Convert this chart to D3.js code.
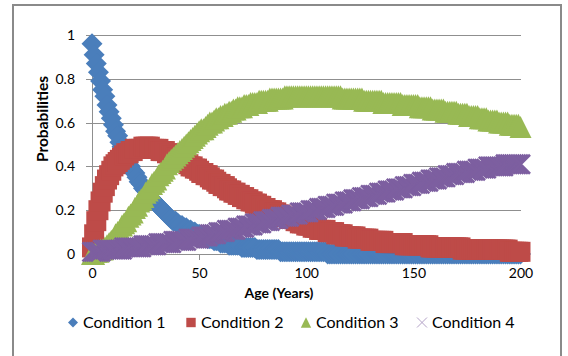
<!DOCTYPE html>
<html>
<head>
<meta charset="utf-8">
<script src="https://cdn.jsdelivr.net/npm/d3@7"></script>
<style>
  html, body { margin: 0; padding: 0; background: #fff; }
  svg { display: block; }
  text { font-family: Lato, "Open Sans", sans-serif; fill: #000; }
</style>
</head>
<body>
<svg id="chart" width="568" height="356"></svg>
<script>
// Age axis: one reading per year
const ageStart = 0, ageEnd = 200;
const ages = d3.range(ageStart, ageEnd + 1);

const condition1 = [
  0.96,0.91,0.87,0.83,0.79,0.75,0.72,0.68,0.65,0.62,
  0.59,0.56,0.54,0.51,0.49,0.47,0.44,0.42,0.40,0.38,
  0.37,0.35,0.33,0.32,0.30,0.29,0.27,0.26,0.25,0.24,
  0.23,0.22,0.21,0.20,0.19,0.18,0.17,0.16,0.15,0.15,
  0.14,0.13,0.13,0.12,0.12,0.11,0.11,0.10,0.10,0.09,
  0.09,0.08,0.08,0.08,0.07,0.07,0.07,0.06,0.06,0.06,
  0.05,0.05,0.05,0.05,0.04,0.04,0.04,0.04,0.04,0.04,
  0.03,0.03,0.03,0.03,0.03,0.03,0.03,0.02,0.02,0.02,
  0.02,0.02,0.02,0.02,0.02,0.02,0.02,0.02,0.01,0.01,
  0.01,0.01,0.01,0.01,0.01,0.01,0.01,0.01,0.01,0.01,
  0.01,0.01,0.01,0.01,0.01,0.01,0.01,0.01,0.01,0.01,
  0,0,0,0,0,0,0,0,0,0,
  0,0,0,0,0,0,0,0,0,0,
  0,0,0,0,0,0,0,0,0,0,
  0,0,0,0,0,0,0,0,0,0,
  0,0,0,0,0,0,0,0,0,0,
  0,0,0,0,0,0,0,0,0,0,
  0,0,0,0,0,0,0,0,0,0,
  0,0,0,0,0,0,0,0,0,0,
  0,0,0,0,0,0,0,0,0,0,
  0
];

const condition2 = [
  0.03,0.09,0.15,0.20,0.24,0.28,0.31,0.34,0.36,0.38,
  0.40,0.41,0.42,0.43,0.44,0.45,0.46,0.46,0.47,0.47,
  0.48,0.48,0.48,0.48,0.49,0.49,0.49,0.49,0.48,0.48,
  0.48,0.48,0.47,0.47,0.47,0.46,0.46,0.45,0.45,0.44,
  0.44,0.43,0.43,0.42,0.42,0.41,0.40,0.40,0.39,0.39,
  0.38,0.37,0.37,0.36,0.36,0.35,0.34,0.34,0.33,0.32,
  0.32,0.31,0.31,0.30,0.29,0.29,0.28,0.28,0.27,0.27,
  0.26,0.26,0.25,0.25,0.24,0.24,0.23,0.23,0.22,0.22,
  0.21,0.21,0.20,0.20,0.20,0.19,0.19,0.18,0.18,0.17,
  0.17,0.17,0.16,0.16,0.16,0.15,0.15,0.14,0.14,0.14,
  0.13,0.13,0.13,0.12,0.12,0.12,0.11,0.11,0.11,0.11,
  0.10,0.10,0.10,0.10,0.09,0.09,0.09,0.09,0.08,0.08,
  0.08,0.08,0.08,0.08,0.07,0.07,0.07,0.07,0.07,0.07,
  0.06,0.06,0.06,0.06,0.06,0.06,0.06,0.05,0.05,0.05,
  0.05,0.05,0.05,0.05,0.05,0.05,0.04,0.04,0.04,0.04,
  0.04,0.04,0.04,0.04,0.04,0.04,0.04,0.04,0.03,0.03,
  0.03,0.03,0.03,0.03,0.03,0.03,0.03,0.03,0.03,0.03,
  0.03,0.03,0.03,0.02,0.02,0.02,0.02,0.02,0.02,0.02,
  0.02,0.02,0.02,0.02,0.02,0.02,0.02,0.02,0.02,0.02,
  0.02,0.02,0.02,0.02,0.02,0.01,0.01,0.01,0.01,0.01,
  0.01
];

const condition3 = [
  0.00,0.00,0.01,0.01,0.02,0.02,0.03,0.04,0.05,0.06,
  0.07,0.09,0.10,0.11,0.13,0.14,0.15,0.17,0.18,0.19,
  0.21,0.22,0.24,0.25,0.26,0.28,0.29,0.30,0.32,0.33,
  0.34,0.36,0.37,0.38,0.39,0.41,0.42,0.43,0.44,0.45,
  0.46,0.47,0.48,0.49,0.50,0.51,0.52,0.53,0.54,0.55,
  0.56,0.57,0.57,0.58,0.59,0.60,0.60,0.61,0.62,0.62,
  0.63,0.63,0.64,0.64,0.65,0.65,0.66,0.66,0.67,0.67,
  0.67,0.68,0.68,0.68,0.69,0.69,0.69,0.69,0.70,0.70,
  0.70,0.70,0.70,0.71,0.71,0.71,0.71,0.71,0.71,0.71,
  0.72,0.72,0.72,0.72,0.72,0.72,0.72,0.72,0.72,0.72,
  0.72,0.72,0.72,0.72,0.72,0.72,0.72,0.72,0.72,0.72,
  0.72,0.72,0.72,0.72,0.72,0.72,0.72,0.71,0.71,0.71,
  0.71,0.71,0.71,0.71,0.71,0.71,0.71,0.70,0.70,0.70,
  0.70,0.70,0.70,0.70,0.70,0.70,0.69,0.69,0.69,0.69,
  0.69,0.69,0.69,0.69,0.69,0.68,0.68,0.68,0.68,0.68,
  0.68,0.68,0.68,0.67,0.67,0.67,0.67,0.67,0.67,0.66,
  0.66,0.66,0.66,0.66,0.66,0.65,0.65,0.65,0.65,0.65,
  0.65,0.64,0.64,0.64,0.64,0.64,0.63,0.63,0.63,0.63,
  0.63,0.62,0.62,0.62,0.62,0.61,0.61,0.61,0.61,0.61,
  0.60,0.60,0.60,0.60,0.60,0.59,0.59,0.59,0.59,0.59,
  0.58
];

const condition4 = [
  0.01,0.01,0.01,0.01,0.01,0.02,0.02,0.02,0.02,0.02,
  0.02,0.02,0.02,0.02,0.02,0.03,0.03,0.03,0.03,0.03,
  0.03,0.03,0.03,0.03,0.04,0.04,0.04,0.04,0.04,0.04,
  0.04,0.05,0.05,0.05,0.05,0.05,0.05,0.05,0.06,0.06,
  0.06,0.06,0.06,0.06,0.06,0.07,0.07,0.07,0.07,0.07,
  0.07,0.08,0.08,0.08,0.08,0.09,0.09,0.09,0.09,0.10,
  0.10,0.10,0.10,0.11,0.11,0.11,0.11,0.11,0.12,0.12,
  0.12,0.12,0.13,0.13,0.13,0.13,0.14,0.14,0.14,0.14,
  0.15,0.15,0.15,0.15,0.16,0.16,0.16,0.16,0.17,0.17,
  0.17,0.17,0.17,0.18,0.18,0.18,0.18,0.19,0.19,0.19,
  0.19,0.19,0.20,0.20,0.20,0.20,0.21,0.21,0.21,0.21,
  0.22,0.22,0.22,0.22,0.23,0.23,0.23,0.23,0.24,0.24,
  0.24,0.24,0.25,0.25,0.25,0.25,0.26,0.26,0.26,0.26,
  0.27,0.27,0.27,0.27,0.28,0.28,0.28,0.28,0.29,0.29,
  0.29,0.29,0.30,0.30,0.30,0.30,0.31,0.31,0.31,0.31,
  0.32,0.32,0.32,0.32,0.33,0.33,0.33,0.33,0.34,0.34,
  0.34,0.34,0.35,0.35,0.35,0.35,0.36,0.36,0.36,0.36,
  0.37,0.37,0.37,0.37,0.37,0.38,0.38,0.38,0.38,0.38,
  0.39,0.39,0.39,0.39,0.39,0.40,0.40,0.40,0.40,0.40,
  0.40,0.40,0.40,0.41,0.41,0.41,0.41,0.41,0.41,0.41,
  0.41
];

const seriesNames = ["Condition 1", "Condition 2", "Condition 3", "Condition 4"];
const seriesColors = ["#4a7ebb", "#be4b48", "#98b954", "#7d5fa0"];
const seriesShapes = ["diamond", "square", "triangle", "cross"];
const xTicks = [0, 50, 100, 150, 200];
const yTicks = [0, 0.2, 0.4, 0.6, 0.8, 1];
const xTitle = "Age (Years)";
const yTitle = "Probabilities";

const series = [condition1, condition2, condition3, condition4].map((vals, i) => ({
  name: seriesNames[i], color: seriesColors[i], shape: seriesShapes[i],
  points: ages.map((a, j) => ({ age: a, p: vals[j] }))
}));

const svg = d3.select("#chart");

// chart frame
svg.append("rect").attr("x", 13).attr("y", 5).attr("width", 548).attr("height", 362)
  .attr("fill", "#fff").attr("stroke", "#8a8a8a").attr("stroke-width", 2);

const x = d3.scaleLinear().domain([0, 200]).range([92, 520.5]);
const y = d3.scaleLinear().domain([0, 1]).range([254, 35]);

// horizontal gridlines
svg.append("g").attr("transform", "translate(92,0)")
  .call(d3.axisLeft(y).tickValues(yTicks.filter(t => t > 0)).tickSize(-(521 - 92)).tickFormat(""))
  .call(g => g.select(".domain").remove())
  .call(g => g.selectAll("line").attr("stroke", "#8f8f8f").attr("shape-rendering", "crispEdges"));

// y axis with outside ticks
svg.append("g").attr("transform", "translate(92,0)")
  .call(d3.axisLeft(y).tickValues(yTicks).tickSize(6).tickPadding(11).tickFormat(d3.format("~g")))
  .call(g => g.select(".domain").attr("stroke", "#8f8f8f").attr("shape-rendering", "crispEdges"))
  .call(g => g.selectAll("line").attr("stroke", "#8f8f8f").attr("shape-rendering", "crispEdges"))
  .call(g => g.selectAll("text").attr("font-size", 14).attr("font-family", "Lato"));

// x axis
svg.append("g").attr("transform", "translate(0,254)")
  .call(d3.axisBottom(x).tickValues(xTicks).tickSize(6).tickPadding(8).tickFormat(d3.format("d")))
  .call(g => g.select(".domain").attr("stroke", "#8f8f8f").attr("d", "M86,0.5H521").attr("shape-rendering", "crispEdges"))
  .call(g => g.selectAll("line").attr("stroke", "#8f8f8f").attr("shape-rendering", "crispEdges"))
  .call(g => g.selectAll("text").attr("font-size", 14).attr("font-family", "Lato"));

// marker shapes
const shapePath = {
  diamond: r => `M0,${-r}L${r},0L0,${r}L${-r},0Z`,
  square: r => `M${-r},${-r}H${r}V${r}H${-r}Z`,
  triangle: r => `M0,${-r}L${r},${r}L${-r},${r}Z`,
  cross: r => `M${-r},${-r}L${r},${r}M${-r},${r}L${r},${-r}`
};
const plotSize = { diamond: 10.5, square: 10, triangle: 11, cross: 9.5 };

series.forEach(s => {
  const g = svg.append("g");
  const marks = g.selectAll("path").data(s.points).join("path")
    .attr("transform", d => `translate(${x(d.age)},${y(d.p)})`)
    .attr("d", shapePath[s.shape](plotSize[s.shape]));
  if (s.shape === "cross") {
    marks.attr("fill", "none").attr("stroke", s.color).attr("stroke-width", 2.6);
  } else {
    marks.attr("fill", s.color).attr("stroke", "none");
  }
});

// axis titles
svg.append("text").attr("x", 279).attr("y", 298).attr("text-anchor", "middle")
  .attr("font-size", 14).attr("font-weight", "bold").text(xTitle);
svg.append("text").attr("transform", "translate(42,119) rotate(-90)")
  .attr("text-anchor", "middle").attr("dominant-baseline", "central")
  .attr("font-size", 15.5).attr("font-weight", "bold").text(yTitle);

// legend
const legendX = [73, 191, 306, 422];
const legendSize = { diamond: 5, square: 4.7, triangle: 5.2, cross: 5 };
series.forEach((s, i) => {
  const g = svg.append("g").attr("transform", `translate(${legendX[i]},322.5)`);
  const m = g.append("path").attr("d", shapePath[s.shape](legendSize[s.shape]));
  if (s.shape === "cross") {
    m.attr("fill", "none").attr("stroke", "#b3a2c7").attr("stroke-width", 1);
  } else {
    m.attr("fill", s.color);
  }
  g.append("text").attr("x", 10).attr("y", 5.5).attr("font-size", 16).text(s.name);
});
</script>
</body>
</html>
